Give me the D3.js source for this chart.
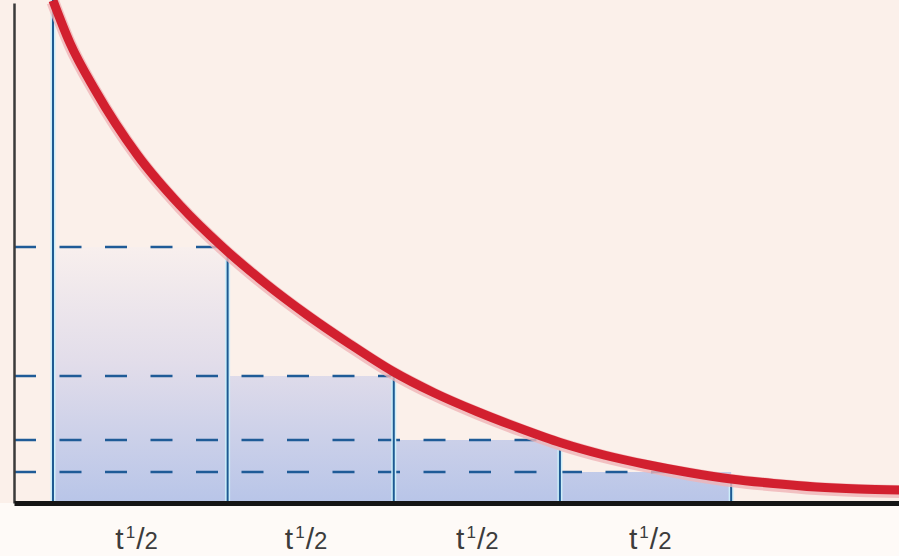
<!DOCTYPE html>
<html><head><meta charset="utf-8">
<script src="https://cdn.jsdelivr.net/npm/d3@7"></script>
<style>html,body{margin:0;padding:0;background:#fefaf7;} svg{display:block}</style>
</head><body>
<svg id="chart" width="899" height="556"></svg>
<script>
// Half-life decay figure
const halfLifeMarks = [0, 1.03, 2.01, 2.99, 4.0];      // vertical drop lines (in half-lives)
const markTops      = [101, 51.2, 25.4, 10.6, 4.4];    // where each drop line meets the curve (% remaining)
const levels        = [51.2, 25.4, 12.6, 6.2];         // dashed horizontal levels (% remaining)
const levelEnds     = [1.0, 2.06, 2.96, 3.73];         // where each dashed level meets the curve
const labelPositions = [0.49, 1.49, 2.5, 3.52];
const labelParts    = ["t", "1", "/", "2"];
const curveT = [0, 0.1, 0.25, 0.5, 0.75, 1.0, 1.25, 1.5, 1.75, 2.0, 2.25, 2.5, 2.75, 3.0, 3.25, 3.5, 3.75, 4.0, 4.25, 4.5, 4.75, 5.0];
const curveV = [100.5, 92, 82.5, 69.5, 59.5, 51.2, 44.0, 37.6, 31.8, 26.4, 22.0, 18.3, 15.0, 12.0, 9.6, 7.7, 6.1, 4.8, 3.9, 3.2, 2.8, 2.6];

const W = 899, H = 556;
const svg = d3.select("#chart");
const x = d3.scaleLinear().domain([-0.23, 4.99]).range([14, 899]);
const y = d3.scaleLinear().domain([0, 100]).range([503, 3]);

// backgrounds
svg.append("rect").attr("x", 0).attr("y", 0).attr("width", W).attr("height", H).attr("fill", "#fefaf7");
svg.append("rect").attr("x", 0).attr("y", 0).attr("width", W).attr("height", y(0)).attr("fill", "#fbf0ea");

// gradient
const defs = svg.append("defs");
const grad = defs.append("linearGradient").attr("id", "blueGrad")
  .attr("gradientUnits", "userSpaceOnUse")
  .attr("x1", 0).attr("x2", 0).attr("y1", y(levels[0])).attr("y2", y(0));
grad.append("stop").attr("offset", 0).attr("stop-color", "#f8efed");
grad.append("stop").attr("offset", 0.45).attr("stop-color", "#e2ddea");
grad.append("stop").attr("offset", 1).attr("stop-color", "#b8c5e8");

// stepped rectangles
svg.append("g").selectAll("rect").data(levels).join("rect")
  .attr("x", (d, i) => x(halfLifeMarks[i]))
  .attr("width", (d, i) => x(halfLifeMarks[i + 1]) - x(halfLifeMarks[i]))
  .attr("y", d => y(d))
  .attr("height", d => y(0) - y(d))
  .attr("fill", "url(#blueGrad)");

// dashed levels
svg.append("g").selectAll("line").data(levels).join("line")
  .attr("x1", x.range()[0]).attr("x2", (d, i) => x(levelEnds[i]))
  .attr("y1", d => y(d)).attr("y2", d => y(d))
  .attr("stroke", "#1f5b97").attr("stroke-width", 2.3)
  .attr("stroke-dasharray", "22,23.5");

// vertical drop lines (with light halo)
const vg = svg.append("g");
vg.selectAll("line.halo").data(halfLifeMarks).join("line").attr("class", "halo")
  .attr("x1", d => x(d)).attr("x2", d => x(d))
  .attr("y1", y(0)).attr("y2", (d, i) => y(markTops[i]))
  .attr("stroke", "#cdeefa").attr("stroke-width", 5);
vg.selectAll("line.main").data(halfLifeMarks).join("line").attr("class", "main")
  .attr("x1", d => x(d)).attr("x2", d => x(d))
  .attr("y1", y(0)).attr("y2", (d, i) => y(markTops[i]))
  .attr("stroke", "#1d5a92").attr("stroke-width", 2);

// curve
const pts = curveT.map((t, i) => [t, curveV[i]]);
const line = d3.line().x(d => x(d[0])).y(d => y(d[1])).curve(d3.curveMonotoneX);
svg.append("path").attr("d", line(pts)).attr("fill", "none")
  .attr("stroke", "#f0b4b6").attr("stroke-width", 13).attr("transform", "translate(0,1.5)").attr("opacity", 0.8);
svg.append("path").attr("d", line(pts)).attr("fill", "none")
  .attr("stroke", "#d2202f").attr("stroke-width", 9).attr("stroke-linecap", "butt");

// axes
const yAxis = svg.append("g").attr("transform", `translate(${x.range()[0]},0)`)
  .call(d3.axisLeft(y).tickValues([]).tickSizeOuter(0));
yAxis.select(".domain").attr("stroke", "#3a3a3a").attr("stroke-width", 2.5);

const xAxis = svg.append("g").attr("transform", `translate(0,${y(0)})`)
  .call(d3.axisBottom(x).tickValues(labelPositions).tickSize(0).tickSizeOuter(0).tickFormat(""));
xAxis.select(".domain").attr("stroke", "#151515").attr("stroke-width", 5);

// tick labels t1/2
const sizes = [30, 17, 30, 24];
const dys = [0, -11, 11, 0];
const dxs = [0, 2, 1, 0];
xAxis.selectAll(".tick text").each(function () {
  const t = d3.select(this);
  t.text(null).attr("y", 0).attr("dy", 0)
    .attr("transform", "translate(0,46)")
    .attr("fill", "#3c3c3c")
    .attr("font-family", "'Liberation Sans', Arial, sans-serif")
    .attr("text-anchor", "middle");
  labelParts.forEach((p, i) => {
    t.append("tspan").attr("font-size", sizes[i] + "px").attr("dy", dys[i]).attr("dx", dxs[i]).text(p);
  });
});
</script>
</body></html>
